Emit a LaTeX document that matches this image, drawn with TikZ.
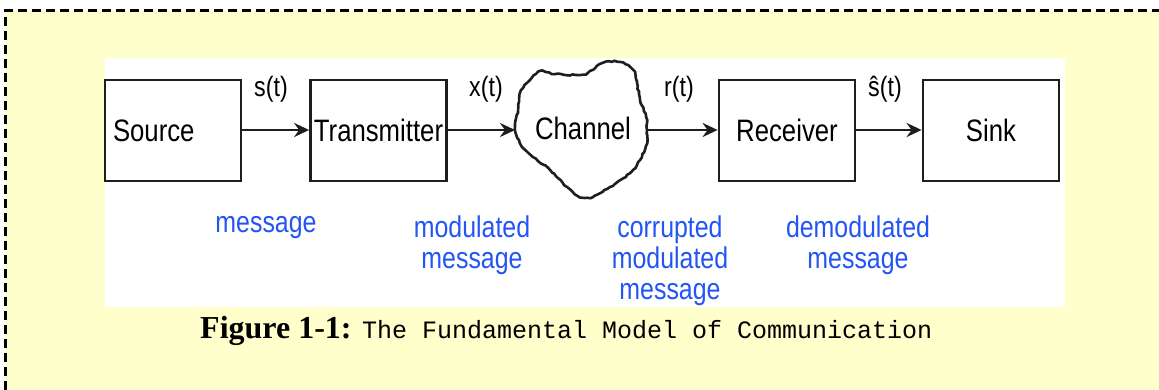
\documentclass[tikz,border=0pt]{standalone}
\usepackage{fontspec}
\setmainfont{Liberation Serif}
\setmonofont{Liberation Mono}
\newfontfamily\dsans[FakeStretch=0.83]{Liberation Sans}
\usetikzlibrary{arrows.meta,decorations.pathmorphing}
\definecolor{bgyellow}{RGB}{255,255,204}
\definecolor{lblblue}{RGB}{35,85,245}
\definecolor{boxline}{RGB}{30,30,30}
\tikzset{
  blockbox/.style={draw=boxline, line width=2.8pt, fill=white, minimum width=136pt, minimum height=101pt, inner sep=0pt, font=\dsans\fontsize{31}{36}\selectfont},
  flowarrow/.style={draw=boxline, line width=2.5pt, -{Stealth[length=15pt,width=14pt,inset=5pt]}},
  siglabel/.style={font=\dsans\fontsize{28}{32}\selectfont, anchor=base, inner sep=0pt},
  bluelabel/.style={font=\dsans\fontsize{30}{31}\selectfont, text=lblblue, align=center, anchor=north, inner sep=0pt},
  frameline/.style={line width=3pt, dash pattern=on 9pt off 5pt}
}
\begin{document}
\begin{tikzpicture}[x=1pt,y=-1pt]
\useasboundingbox (0,0) rectangle (1159,390);
\fill[white] (0,0) rectangle (1159,390);
\fill[bgyellow] (5,11) rectangle (1159,390);
\draw[frameline] (5,390) -- (5,11) -- (1159,11);
% white panel
\fill[white] (105,58) rectangle (1065,307);
% blocks
\node[blockbox, text width=120pt, align=left, inner xsep=8pt] (src) at (173,130.5) {Source};
\node[blockbox] (tx) at (378.5,130.5) {Transmitter};
\node[blockbox] (rx) at (787,130.5) {Receiver};
\node[blockbox] (sink) at (991,130.5) {Sink};
% channel cloud
\draw[draw=boxline, line width=2.6pt, fill=white, decorate, decoration={random steps, segment length=3pt, amplitude=0.7pt}]
  plot[smooth cycle, tension=0.6] coordinates {
  (540,71) (555,74) (580,75) (590,71) (603,63) (620,62) (633,70) (637,83) (640,100)
  (646,117) (647,130) (647,143) (640,160) (630,173) (610,187) (593,197) (580,197)
  (567,187) (550,170) (533,157) (520,143) (515,127) (518,110) (520,93) (530,80)};
\node[font=\dsans\fontsize{31}{36}\selectfont, inner sep=0pt] (chan) at (583,128) {Channel};
\coordinate (chL) at (515,130);
\coordinate (chR) at (647,130);
% arrows
\draw[flowarrow] (src.east |- 0,130) -- (tx.west |- 0,130);
\draw[flowarrow] (tx.east |- 0,130) -- (chL);
\draw[flowarrow] (chR) -- (rx.west |- 0,130);
\draw[flowarrow] (rx.east |- 0,130) -- (sink.west |- 0,130);
% signal labels
\node[siglabel] (ls) at (271,97) {s(t)};
\node[siglabel] (lx) at (486,97) {x(t)};
\node[siglabel] (lr) at (679,97) {r(t)};
\node[siglabel] (lsh) at (885,97) {ŝ(t)};
% blue labels
\node[bluelabel] (bm) at (266,216) {message};
\node[bluelabel] (bmm) at (472,216) {modulated\\message};
\node[bluelabel] (bcm) at (670,216) {corrupted\\modulated\\message};
\node[bluelabel] (bdm) at (858,216) {demodulated\\message};
% caption
\node[anchor=base west, inner sep=0pt] (cap) at (200,338) {\fontsize{32}{36}\selectfont\bfseries Figure 1-1: \fontsize{25}{30}\selectfont\mdseries\ttfamily The Fundamental Model of Communication};
\end{tikzpicture}
\end{document}
